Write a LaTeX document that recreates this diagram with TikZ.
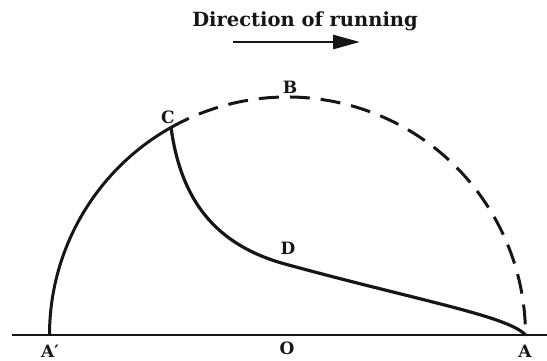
\documentclass[tikz,border=0pt]{standalone}
\usepackage{fontspec}
\setmainfont{DejaVu Serif}
\usetikzlibrary{arrows.meta,positioning,calc}
\definecolor{inkblack}{RGB}{22,22,22}

\begin{document}
\begin{tikzpicture}[x=1pt,y=1pt,
    lbl/.style={font=\bfseries\fontsize{17}{17}\selectfont,inner sep=0pt,inkblack},
    rim/.style={line width=3pt,inkblack},
    ghost/.style={rim,dash pattern=on 20pt off 11pt},
    track/.style={line width=3.2pt,inkblack,line cap=round},
    ground/.style={line width=2.6pt,inkblack},
    arr/.style={-{Triangle[length=27pt,width=14pt]},line width=2.8pt,inkblack}
  ]
  \useasboundingbox (0,0) rectangle (547,360);

  % circle of the wheel and its points
  \coordinate (O) at (287.5,25);
  \coordinate (A) at ($(O)+(0:238pt)$);
  \coordinate (A') at ($(O)+(180:238pt)$);
  \coordinate (C) at ($(O)+(119.3:238pt)$);
  \coordinate (B) at ($(O)+(90:238pt)$);
  \coordinate (D) at (285,96);
  \coordinate (L) at (12,25);
  \coordinate (R) at (547,25);

  % ground line
  \draw[ground] (L) -- (R);

  % arcs
  \draw[rim] (A') arc[start angle=180,end angle=119.3,radius=238pt];
  \draw[ghost] (C) arc[start angle=119.3,end angle=0,radius=238pt];

  % path of the point
  \draw[track] (C) .. controls (181,159) and (216,115) .. (D)
               .. controls (420,59) and (508,44) .. (A);

  % labels
  \node[lbl] (lA') at (50,9) {A′};
  \node[lbl] (lO) at (287,12) {O};
  \node[lbl] (lA) at (525,9) {A};
  \node[lbl] (lB) at (290,273) {B};
  \node[lbl] (lC) at (168,243) {C};
  \node[lbl] (lD) at (288,112) {D};

  % direction of running
  \node[font=\bfseries\fontsize{19.5}{19.5}\selectfont,inkblack,anchor=base] (dir) at (305,334) {Direction of running};
  \coordinate (s) at (233,318);
  \coordinate (t) at (360,318);
  \draw[arr] (s) -- (t);
\end{tikzpicture}
\end{document}
